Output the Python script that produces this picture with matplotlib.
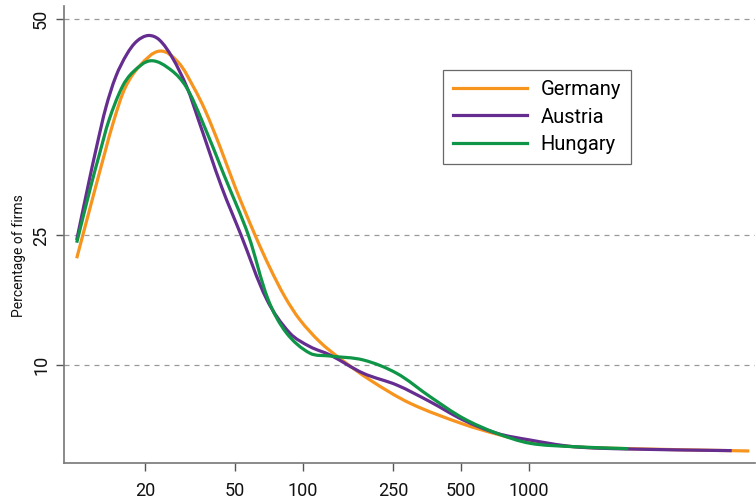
import matplotlib
matplotlib.use("Agg")
import numpy as np
import matplotlib.pyplot as plt
from matplotlib.path import Path
from matplotlib.patches import PathPatch
from matplotlib.lines import Line2D

plt.rcParams['font.family'] = ['Roboto', 'DejaVu Sans']

# Firm size (number of employees, log scale) and percentage of firms
germany_x = [9.97, 12.10, 13.26, 14.58, 16.42, 19.10, 23.30, 27.99, 32.71, 36.85, 42.93,
             50.02, 61.33, 71.45, 83.25, 97.0, 118.9, 145.8, 197.9, 297.5, 510.6, 744.2,
             1010, 1566, 2742, 9436]
germany_y = [22.36, 30.64, 34.50, 38.35, 42.2, 44.71, 46.32, 45.05, 42.2, 39.50, 35.26,
             30.64, 25.05, 21.24, 17.88, 15.23, 12.68, 10.77, 8.29, 5.60, 3.20, 1.93,
             1.16, 0.58, 0.35, 0.08]

austria_x = [9.97, 11.19, 12.26, 13.44, 14.88, 16.64, 18.43, 20.68, 23.06, 26.32, 30.58,
             34.48, 43.6, 53.18, 69.30, 87.59, 107.4, 131.7, 184.9, 259.8, 364.8, 512,
             719.6, 1010, 1566, 2742, 7886]
austria_y = [24.47, 30.72, 35.46, 39.85, 43.43, 45.98, 47.48, 48.12, 47.65, 45.63, 42.2,
             38.35, 30.64, 25.05, 17.54, 13.69, 12.14, 11.18, 9.06, 7.71, 5.78, 3.66,
             2.13, 1.35, 0.58, 0.31, 0.12]

hungary_x = [9.97, 11.50, 12.60, 13.86, 15.87, 17.75, 21.26, 26.06, 30.37, 35.63, 44.72,
             57.28, 70.22, 84.71, 107.4, 131.7, 184.9, 259.8, 364.8, 512, 719.6, 1010,
             1566, 2750]
hungary_y = [24.16, 30.64, 34.50, 38.35, 42.2, 43.93, 45.20, 44.13, 42.2, 38.35, 31.99,
             25.05, 17.54, 13.69, 11.38, 11.06, 10.60, 9.06, 6.36, 3.86, 2.13, 0.97,
             0.58, 0.35]

series = [("Germany", germany_x, germany_y, "#F7941D"),
          ("Austria", austria_x, austria_y, "#662D91"),
          ("Hungary", hungary_x, hungary_y, "#0F9548")]

x_ticks = [20, 50, 100, 250, 500, 1000]
y_ticks = [10, 25, 50]

fig = plt.figure(figsize=(7.56, 4.99), dpi=100)
ax = fig.add_axes([64/756, 36/499, 691/756, 457/499])
ax.set_xscale('log')
ax.set_xlim(8.76, 10000)
ax.set_ylim(-1.31, 51.53)


def smooth_path(xs, ys):
    """Smooth Bezier path through the read points, built in display space."""
    P = ax.transData.transform(np.column_stack([xs, ys]))
    n = len(P)
    T = np.zeros_like(P)
    for i in range(n):
        a = P[max(i - 1, 0)]
        b = P[min(i + 1, n - 1)]
        d = b - a
        T[i] = d / np.hypot(*d)
    verts = [P[0]]
    codes = [Path.MOVETO]
    for i in range(n - 1):
        L = np.hypot(*(P[i + 1] - P[i]))
        verts += [P[i] + T[i] * L / 3, P[i + 1] - T[i + 1] * L / 3, P[i + 1]]
        codes += [Path.CURVE4] * 3
    verts = ax.transData.inverted().transform(np.array(verts))
    return Path(verts, codes)


handles = []
for name, xs, ys, c in series:
    patch = PathPatch(smooth_path(xs, ys), fill=False, edgecolor=c, lw=2.3,
                      transform=ax.transData, capstyle='butt')
    ax.add_patch(patch)
    handles.append(Line2D([], [], color=c, lw=2.3, label=name))

for yv in y_ticks:
    ax.axhline(yv, color='#999999', lw=0.9, ls=(0, (4, 4)), zorder=0)

ax.set_xticks(x_ticks)
ax.set_xticklabels([str(t) for t in x_ticks])
ax.xaxis.set_minor_locator(matplotlib.ticker.NullLocator())
ax.set_yticks(y_ticks)
ax.set_yticklabels([str(t) for t in y_ticks], rotation=90, va='center')

for s in ['top', 'right']:
    ax.spines[s].set_visible(False)
for s in ['left', 'bottom']:
    ax.spines[s].set_color('#777777')
    ax.spines[s].set_linewidth(1.2)

ax.tick_params(axis='both', colors='#555555', length=6, width=1.0, labelcolor='#111111',
               labelsize=13)
ax.tick_params(axis='x', pad=8)
ax.tick_params(axis='y', pad=4)

ax.set_ylabel("Percentage of firms", fontsize=10, color='#111111')
ax.yaxis.set_label_coords(-0.055, 0.455)

leg = ax.legend(handles=handles, loc='upper left', bbox_to_anchor=(0.548, 0.86),
                frameon=True, fancybox=False, edgecolor='#444444', fontsize=14.5,
                handlelength=3.7, handletextpad=0.65, borderpad=0.5, labelspacing=0.42,
                borderaxespad=0)
leg.get_frame().set_linewidth(0.9)

fig.savefig("out.png", dpi=100)
